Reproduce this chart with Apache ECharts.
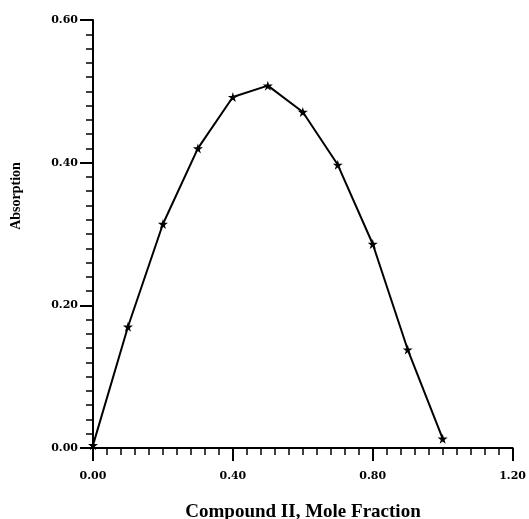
<!DOCTYPE html>
<html>
<head>
<meta charset="utf-8">
<script src="https://cdn.jsdelivr.net/npm/echarts@6/dist/echarts.min.js"></script>
<style>html,body{margin:0;padding:0;background:#fff}#c{width:529px;height:519px}</style>
</head>
<body>
<div id="c"></div>
<script>
const moleFraction = [0.0, 0.1, 0.2, 0.3, 0.4, 0.5, 0.6, 0.7, 0.8, 0.9, 1.0];
const absorption = [0.004, 0.170, 0.314, 0.420, 0.492, 0.508, 0.471, 0.397, 0.286, 0.138, 0.013];
const xTitle = 'Compound II, Mole Fraction';
const yTitle = 'Absorption';

const star = 'path://M50,0 L61,35 L98,35 L68,57 L79,91 L50,70 L21,91 L32,57 L2,35 L39,35 Z';
const tickFont = "'DejaVu Serif', 'Liberation Serif', serif";
const chart = echarts.init(document.getElementById('c'));
chart.setOption({
  animation: false,
  backgroundColor: '#fff',
  grid: {left: 93, right: 15, top: 20, bottom: 71, containLabel: false},
  xAxis: {
    type: 'value', min: 0, max: 1.2, interval: 0.4,
    axisLine: {show: true, lineStyle: {color: '#000', width: 2}},
    axisTick: {show: true, length: 13, lineStyle: {color: '#000', width: 2}},
    minorTick: {show: true, splitNumber: 10, length: 7, lineStyle: {color: '#000', width: 1.5}},
    splitLine: {show: false},
    axisLabel: {color: '#000', fontFamily: tickFont, fontWeight: 'bold', fontSize: 11, margin: 23,
      formatter: v => v.toFixed(2)}
  },
  yAxis: {
    type: 'value', min: 0, max: 0.6, interval: 0.2,
    axisLine: {show: true, lineStyle: {color: '#000', width: 2}},
    axisTick: {show: true, length: 13, lineStyle: {color: '#000', width: 2}},
    minorTick: {show: true, splitNumber: 10, length: 7, lineStyle: {color: '#000', width: 1.5}},
    splitLine: {show: false},
    axisLabel: {color: '#000', fontFamily: tickFont, fontWeight: 'bold', fontSize: 11, margin: 15,
      formatter: v => v.toFixed(2)}
  },
  graphic: [
    {type: 'text', x: 303, y: 512, style: {text: xTitle, fill: '#000',
      font: "bold 19px 'Liberation Serif', serif", textAlign: 'center', textVerticalAlign: 'middle'}},
    {type: 'text', x: 9, y: 196, rotation: Math.PI / 2, style: {text: yTitle, fill: '#000',
      font: "bold 14px 'Liberation Serif', serif", textAlign: 'center', textVerticalAlign: 'top'}}
  ],
  series: [{
    type: 'line',
    data: moleFraction.map((x, i) => [x, absorption[i]]),
    lineStyle: {color: '#000', width: 2},
    itemStyle: {color: '#000'},
    symbol: star, symbolSize: 10, showSymbol: true
  }]
});
</script>
</body>
</html>
